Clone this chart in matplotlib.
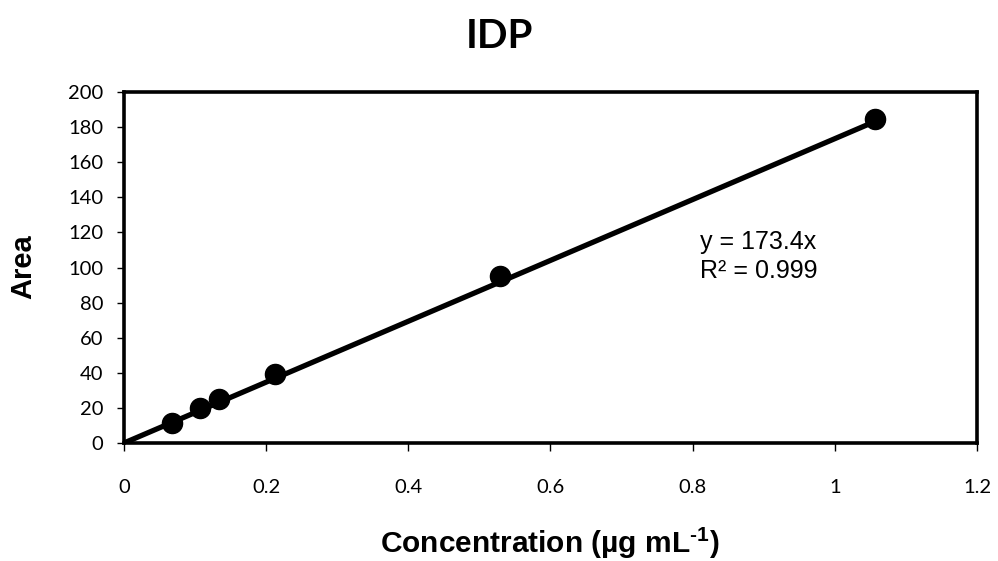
import matplotlib
matplotlib.use("Agg")
import matplotlib.pyplot as plt
import numpy as np

plt.rcParams['font.family'] = ['Liberation Sans', 'DejaVu Sans']
plt.rcParams['mathtext.fontset'] = 'custom'
plt.rcParams['mathtext.rm'] = 'Liberation Sans:bold'
plt.rcParams['mathtext.bf'] = 'Liberation Sans:bold'

# Calibration data
concentration = [0.0675, 0.107, 0.134, 0.212, 0.529, 1.057]
area = [11.5, 20.0, 25.0, 39.5, 95.0, 184.5]
slope = 173.4
r_squared = 0.999
x_ticks = [0, 0.2, 0.4, 0.6, 0.8, 1, 1.2]
x_tick_labels = ['0', '0.2', '0.4', '0.6', '0.8', '1', '1.2']
y_ticks = list(range(0, 201, 20))

fig = plt.figure(figsize=(9.98, 5.61), dpi=100)
ax = fig.add_axes([0.1242, 0.2103, 0.8547, 0.6257])

# Linear fit through the origin
fit_x = np.array([0, max(concentration)])
ax.plot(fit_x, slope * fit_x, color='black', lw=3.8, solid_capstyle='butt', zorder=2)
ax.scatter(concentration, area, s=210, color='black', zorder=3, clip_on=False)

ax.set_xlim(0, 1.2)
ax.set_ylim(0, 200)
ax.set_xticks(x_ticks)
ax.set_xticklabels(x_tick_labels)
ax.set_yticks(y_ticks)
ax.tick_params(axis='both', direction='out', width=1.0, labelsize=14.5)
ax.tick_params(axis='x', length=6, pad=20)
ax.tick_params(axis='y', length=5, pad=10)
for lab in ax.get_xticklabels() + ax.get_yticklabels():
    lab.set_family(['Lato', 'DejaVu Sans'])

for s in ax.spines.values():
    s.set_linewidth(2.6)

fig.text(0.5, 1 - 48 / 561, 'IDP', fontsize=29, fontweight='bold',
         family=['Lato', 'DejaVu Sans'], ha='center', va='baseline')
fig.text(23 / 998, 1 - 267 / 561, 'Area', fontsize=21, fontweight='bold',
         rotation=90, ha='center', va='center')
fig.text(550 / 998, 1 - 553 / 561, r'Concentration (µg mL$^{\text{-1}}$)',
         fontsize=21.5, fontweight='bold', ha='center', va='baseline')

ax.text(0.810, 110.5, f'y = {slope}x', fontsize=18, ha='left', va='baseline')
ax.text(0.810, 94.0, f'R² = {r_squared}', fontsize=18, ha='left', va='baseline')

fig.savefig('out.png', dpi=100)
